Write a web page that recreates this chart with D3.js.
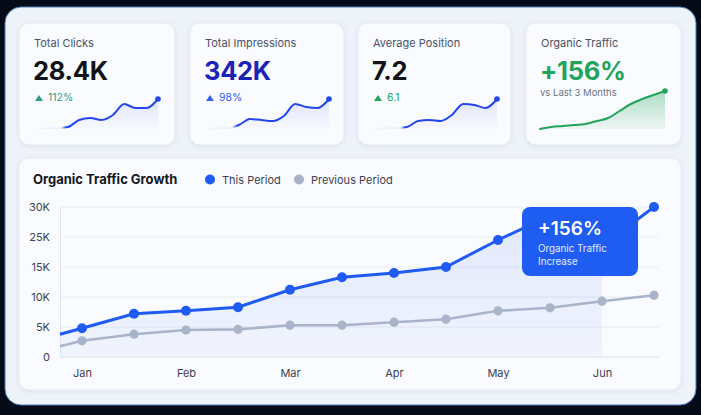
<!DOCTYPE html>
<html>
<head>
<meta charset="utf-8">
<script src="https://cdn.jsdelivr.net/npm/d3@7"></script>
<style>
  html, body { margin: 0; padding: 0; background: #040a16; }
  svg { display: block; font-family: Inter, "Noto Sans", sans-serif; }
</style>
</head>
<body>
<svg id="chart"></svg>
<script>
// ---- data ----
const months = ["Jan", "Feb", "Mar", "Apr", "May", "Jun"];
const thisPeriod = [4800, 7200, 7700, 8300, 11200, 13300, 14000, 15000, 24000, 28500, 22000, 30000];
const prevPeriod = [2700, 3800, 4500, 4600, 5300, 5300, 5800, 6300, 7700, 8200, 9300, 10300];
const leadThis = 3800;
const leadPrev = 1800;
const yTicks = [0, 5000, 10000, 15000, 25000, 30000];
const yTickLabels = ["0", "5K", "10K", "15K", "25K", "30K"];

const cardTitles = ["Total Clicks", "Total Impressions", "Average Position", "Organic Traffic"];
const cardValues = ["28.4K", "342K", "7.2", "+156%"];
const cardChanges = ["112%", "98%", "6.1", null];
const sparkClicks = [1, 1, 1, 2, 9, 11, 9, 14, 25, 21, 21, 30];
const sparkImpr = [1, 1, 1, 4, 10, 9, 8, 13, 25, 22, 21, 30];
const sparkPos = [1, 1, 1, 2, 8, 9, 8, 14, 25, 24, 21, 30];
const sparkTraffic = [0, 2, 3, 4, 5, 8, 11, 18, 25, 30, 34, 38];

const W = 701, H = 415;
const svg = d3.select("#chart").attr("width", W).attr("height", H);
const defs = svg.append("defs");

const shadow = defs.append("filter").attr("id", "shadow")
    .attr("x", "-10%").attr("y", "-10%").attr("width", "120%").attr("height", "130%");
shadow.append("feDropShadow").attr("dx", 0).attr("dy", 1).attr("stdDeviation", 2)
    .attr("flood-color", "#8090b0").attr("flood-opacity", 0.18);

const addGrad = (id, color, o1, o2, horiz) => {
    const g = defs.append("linearGradient").attr("id", id)
        .attr("x1", 0).attr("y1", 0).attr("x2", horiz ? 1 : 0).attr("y2", horiz ? 0 : 1);
    g.append("stop").attr("offset", "0%").attr("stop-color", color).attr("stop-opacity", o1);
    g.append("stop").attr("offset", "100%").attr("stop-color", color).attr("stop-opacity", o2);
    return g;
};
addGrad("areaMain", "#3a6df0", 0.13, 0.05);
addGrad("sparkFill", "#5b6ff0", 0.16, 0.02);
addGrad("greenFill", "#22a35a", 0.35, 0.06);
const fade = defs.append("linearGradient").attr("id", "fadeLine").attr("x1", 0).attr("x2", 1).attr("y1", 0).attr("y2", 0);
fade.append("stop").attr("offset", "0%").attr("stop-color", "#2346e8").attr("stop-opacity", 0);
fade.append("stop").attr("offset", "22%").attr("stop-color", "#2346e8").attr("stop-opacity", 0.05);
fade.append("stop").attr("offset", "26%").attr("stop-color", "#2346e8").attr("stop-opacity", 1);
fade.append("stop").attr("offset", "100%").attr("stop-color", "#2346e8").attr("stop-opacity", 1);

// background panel
svg.append("rect").attr("width", W).attr("height", H).attr("fill", "#040a16");
svg.append("rect").attr("x", 5).attr("y", 7).attr("width", 691).attr("height", 398).attr("rx", 16)
    .attr("fill", "#eef2f9").attr("stroke", "#4d7fc0").attr("stroke-width", 1);

// ---- KPI cards ----
const cardX = [19, 190, 358, 526];
const cardW = [156, 154, 153, 155];
const valueColors = ["#111318", "#1c22b5", "#111318", "#22a35a"];
const changeColors = ["#2a9d88", "#2f64e8", "#22a35a", null];
const sparks = [sparkClicks, sparkImpr, sparkPos, sparkTraffic];

cardX.forEach((cx, i) => {
    const g = svg.append("g").attr("transform", `translate(${cx},23)`);
    g.append("rect").attr("width", cardW[i]).attr("height", 122).attr("rx", 10)
        .attr("fill", "#fafbfe").attr("stroke", "#e7ebf3").attr("filter", "url(#shadow)");
    g.append("text").attr("x", 15).attr("y", 24).attr("font-size", 11).attr("fill", "#4a5264")
        .text(cardTitles[i]);
    g.append("text").attr("x", 14).attr("y", 57).attr("font-size", 25.5).attr("font-weight", 700)
        .attr("fill", valueColors[i]).attr("letter-spacing", -0.3).text(cardValues[i]);
    if (cardChanges[i]) {
        g.append("path").attr("d", "M16,78 L20,72 L24,78 Z").attr("fill", changeColors[i]);
        g.append("text").attr("x", 29).attr("y", 78).attr("font-size", 10.5)
            .attr("fill", changeColors[i]).text(cardChanges[i]);
    } else {
        g.append("text").attr("x", 14).attr("y", 73).attr("font-size", 9.5)
            .attr("fill", "#6a7282").text("vs Last 3 Months");
    }

    const vals = sparks[i];
    const green = i === 3;
    const sx = d3.scaleLinear().domain([0, vals.length - 1]).range(green ? [14, 139] : [15, 139]);
    const sy = d3.scaleLinear().domain([0, green ? 38 : 30]).range([106, green ? 68 : 76]);
    const area = d3.area().x((d, j) => sx(j)).y0(sy(0)).y1(d => sy(d)).curve(d3.curveMonotoneX);
    const line = d3.line().x((d, j) => sx(j)).y(d => sy(d)).curve(d3.curveMonotoneX);
    g.append("path").datum(vals).attr("d", area).attr("fill", green ? "url(#greenFill)" : "url(#sparkFill)");
    g.append("path").datum(vals).attr("d", line).attr("fill", "none")
        .attr("stroke", green ? "#22a35a" : "url(#fadeLine)").attr("stroke-width", 2)
        .attr("stroke-linecap", "round");
    g.append("circle").attr("cx", sx(vals.length - 1)).attr("cy", sy(vals[vals.length - 1]))
        .attr("r", 2.8).attr("fill", green ? "#22a35a" : "#2346e8");
});

// ---- main chart card ----
svg.append("rect").attr("x", 19).attr("y", 158).attr("width", 662).attr("height", 232).attr("rx", 10)
    .attr("fill", "#fafbfe").attr("stroke", "#e7ebf3").attr("filter", "url(#shadow)");

svg.append("text").attr("x", 33).attr("y", 184).attr("font-size", 13).attr("font-weight", 700)
    .attr("fill", "#14171f").text("Organic Traffic Growth");

const legend = [["This Period", "#1f5af2", 210], ["Previous Period", "#a7b2ca", 299]];
legend.forEach(([label, color, lx]) => {
    svg.append("circle").attr("cx", lx).attr("cy", 179.5).attr("r", 5).attr("fill", color);
    svg.append("text").attr("x", lx + 12).attr("y", 183.5).attr("font-size", 11)
        .attr("fill", "#3a4150").text(label);
});

const plotLeft = 60, plotRight = 659;
const x = d3.scaleLinear().domain([0, thisPeriod.length - 1]).range([82, 654]);
const y = d3.scaleLinear().domain(yTicks).range([357, 327, 297, 267, 237, 207]);

// grid
svg.append("g").selectAll("line").data(yTicks.slice(1)).join("line")
    .attr("x1", plotLeft).attr("x2", plotRight)
    .attr("y1", d => y(d)).attr("y2", d => y(d))
    .attr("stroke", "#e8ecf3").attr("stroke-width", 1);

const leadIdx = x.invert(plotLeft);
const thisPts = [[leadIdx, leadThis]].concat(thisPeriod.map((v, i) => [i, v]));
const prevPts = [[leadIdx, leadPrev]].concat(prevPeriod.map((v, i) => [i, v]));

// area under this period (up to Jun)
const area = d3.area().x(d => x(d[0])).y0(y(0)).y1(d => y(d[1]));
svg.append("path").datum(thisPts.filter(d => d[0] <= 10)).attr("d", area).attr("fill", "url(#areaMain)");

// axes
const yAxis = svg.append("g").attr("transform", `translate(${plotLeft},0)`)
    .call(d3.axisLeft(y).tickValues(yTicks).tickFormat((d, i) => yTickLabels[i]).tickSize(0).tickPadding(10));
yAxis.select(".domain").attr("stroke", "#dfe4ee");
yAxis.selectAll("text").attr("font-size", 11).attr("fill", "#3a4150").attr("font-family", "Inter, sans-serif");

const monthIdx = months.map((m, i) => i * 2);
const xAxis = svg.append("g").attr("transform", `translate(0,${y(0)})`)
    .call(d3.axisBottom(x).tickValues(monthIdx).tickFormat((d, i) => months[i]).tickSize(0).tickPadding(12));
xAxis.select(".domain").attr("d", `M${plotLeft},0H${plotRight}`).attr("stroke", "#d9dfea").attr("stroke-width", 1.2);
xAxis.selectAll("text").attr("font-size", 11).attr("fill", "#3a4150").attr("font-family", "Inter, sans-serif");

// lines
const line = d3.line().x(d => x(d[0])).y(d => y(d[1]));
svg.append("path").datum(prevPts).attr("d", line).attr("fill", "none")
    .attr("stroke", "#a9b4cb").attr("stroke-width", 2.6);
svg.append("g").selectAll("circle").data(prevPeriod).join("circle")
    .attr("cx", (d, i) => x(i)).attr("cy", d => y(d)).attr("r", 4.6).attr("fill", "#a9b4cb");

svg.append("path").datum(thisPts).attr("d", line).attr("fill", "none")
    .attr("stroke", "#1f5af2").attr("stroke-width", 3);
svg.append("g").selectAll("circle").data(thisPeriod).join("circle")
    .attr("cx", (d, i) => x(i)).attr("cy", d => y(d)).attr("r", 5).attr("fill", "#1f5af2");

// callout
const box = svg.append("g").attr("transform", "translate(522,207)");
box.append("rect").attr("width", 116).attr("height", 69).attr("rx", 8).attr("fill", "#1f5cf2");
box.append("text").attr("x", 16).attr("y", 28).attr("font-size", 19).attr("font-weight", 600)
    .attr("fill", "#ffffff").text("+156%");
box.append("text").attr("x", 16).attr("y", 45).attr("font-size", 9.8).attr("fill", "#e4ebff").text("Organic Traffic");
box.append("text").attr("x", 16).attr("y", 58).attr("font-size", 9.8).attr("fill", "#e4ebff").text("Increase");
</script>
</body>
</html>
